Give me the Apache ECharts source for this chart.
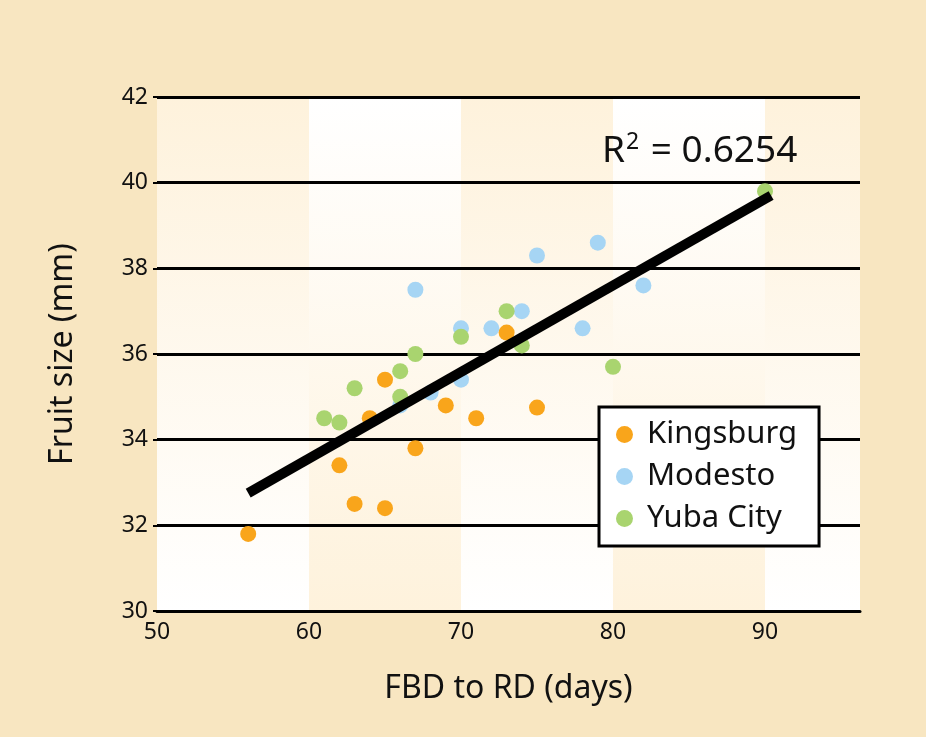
<!DOCTYPE html>
<html>
<head>
<meta charset="utf-8">
<title>Fruit size vs FBD to RD</title>
<script src="https://cdn.jsdelivr.net/npm/echarts@6/dist/echarts.min.js"></script>
<style>
  html, body { margin: 0; padding: 0; background: #ffffff; }
  #chart { width: 926px; height: 737px; background: #F8E6C1; }
</style>
</head>
<body>
<div id="chart"></div>
<script>
// FBD to RD (days), fruit size (mm)
const kingsburg = [
  [56, 31.8], [62, 33.4], [63, 32.5], [65, 32.4], [64, 34.5], [65, 35.4],
  [67, 33.8], [69, 34.8], [71, 34.5], [73, 36.5], [75, 34.75]
]
const modesto = [
  [67, 37.5], [66, 34.8], [68, 35.1], [70, 35.4], [70, 36.6], [72, 36.6],
  [74, 37.0], [75, 38.3], [79, 38.6], [78, 36.6], [82, 37.6]
]
const yubaCity = [
  [61, 34.5], [62, 34.4], [63, 35.2], [66, 35.6], [66, 35.0], [67, 36.0],
  [70, 36.4], [73, 37.0], [74, 36.2], [80, 35.7], [90, 39.8]
]
// trend line ends
const trend = [[56, 32.75], [90.4, 39.7]]
const seriesNames = ['Kingsburg', 'Modesto', 'Yuba City']
const seriesColors = ['#F9A51B', '#A6D5F4', '#A9D46F']
// background bands: [from, to, cream at top? 1 : 0]
const bands = [[50, 60, 1], [60, 70, 0], [70, 80, 1], [80, 90, 0], [90, 96.25, 1]]

const chart = echarts.init(document.getElementById('chart'))

const cream = '#FEF2DC'
const grad = (creamTop) => new echarts.graphic.LinearGradient(0, 0, 0, 1, [
  { offset: 0, color: creamTop ? cream : '#FFFFFF' },
  { offset: 1, color: creamTop ? '#FFFFFF' : cream }
])

const font = '"Noto Sans", "Open Sans", sans-serif'

const option = {
  textStyle: { fontFamily: font },
  animation: false,
  grid: { left: 157, right: 66, top: 97, bottom: 126 },
  title: {
    text: '{a|R}{b|2}{a| = 0.6254}',
    left: 597,
    top: 125,
    textStyle: {
      rich: {
        a: { fontSize: 37, color: '#111', fontFamily: font, fontWeight: 'normal', lineHeight: 42 },
        b: { fontSize: 23, color: '#111', fontFamily: font, fontWeight: 'normal', lineHeight: 23, padding: [0, 2, 17, 1] }
      }
    }
  },
  legend: {
    data: seriesNames,
    orient: 'vertical',
    left: 599,
    top: 407,
    padding: [12, 22, 12, 17],
    itemGap: 11,
    itemWidth: 17,
    itemHeight: 17,
    icon: 'circle',
    backgroundColor: '#FFFFFF',
    borderColor: '#000',
    borderWidth: 3,
    borderRadius: 0,
    textStyle: { fontSize: 31, color: '#111', fontFamily: font, padding: [0, 0, 0, 9] }
  },
  xAxis: {
    type: 'value',
    min: 50,
    max: 96.25,
    interval: 10,
    name: 'FBD to RD (days)',
    nameLocation: 'middle',
    nameGap: 62,
    nameTextStyle: { fontSize: 32, color: '#111' },
    axisLine: { show: true, lineStyle: { color: '#000', width: 3 } },
    axisTick: { show: false },
    splitLine: { show: false },
    axisLabel: {
      fontSize: 23, color: '#111', margin: 10,
      formatter: (v) => (v % 10 === 0 && v <= 90 ? String(v) : '')
    }
  },
  yAxis: {
    type: 'value',
    min: 30,
    max: 42,
    interval: 2,
    name: 'Fruit size (mm)',
    nameLocation: 'middle',
    nameGap: 78,
    nameTextStyle: { fontSize: 32, color: '#111' },
    axisLine: { show: false },
    axisTick: { show: true, length: 4, lineStyle: { color: '#000', width: 2 } },
    splitLine: { show: true, lineStyle: { color: '#000', width: 3 } },
    axisLabel: { fontSize: 23, color: '#111', margin: 9 }
  },
  series: [
    {
      // vertical gradient bands behind the grid lines
      type: 'custom',
      name: 'bands',
      z: -10,
      silent: true,
      data: bands,
      renderItem: (params, api) => {
        const p0 = api.coord([api.value(0), 42])
        const p1 = api.coord([api.value(1), 30])
        return {
          type: 'rect',
          shape: { x: p0[0], y: p0[1], width: p1[0] - p0[0], height: p1[1] - p0[1] },
          style: { fill: grad(api.value(2) === 1) }
        }
      }
    },
    {
      type: 'line',
      name: 'trend',
      data: trend,
      symbol: 'none',
      silent: true,
      lineStyle: { color: '#000', width: 10, cap: 'butt' }
    },
    ...[kingsburg, modesto, yubaCity].map((d, i) => ({
      type: 'scatter',
      name: seriesNames[i],
      data: d,
      symbolSize: 16,
      itemStyle: { color: seriesColors[i], opacity: 1 }
    }))
  ]
}

chart.setOption(option)
</script>
</body>
</html>
